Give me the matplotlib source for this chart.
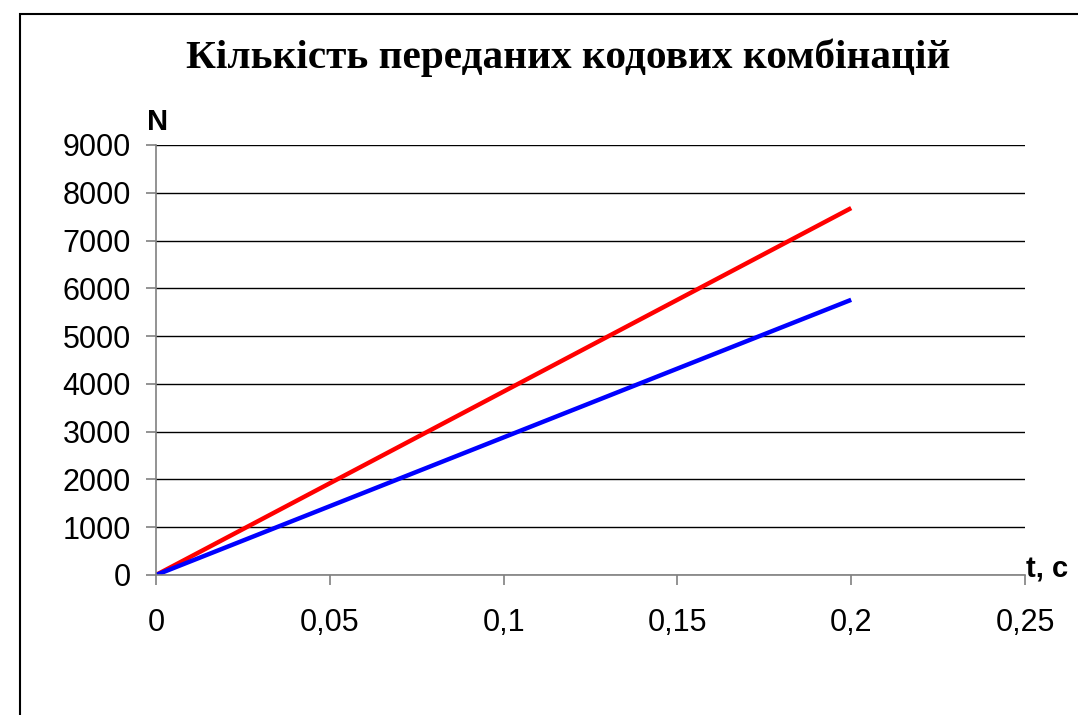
import matplotlib
matplotlib.use("Agg")
import matplotlib.pyplot as plt
from matplotlib.patches import Rectangle
from matplotlib.ticker import FuncFormatter

# data
t = [0.0, 0.01, 0.02, 0.03, 0.04, 0.05, 0.06, 0.07, 0.08, 0.09, 0.10,
     0.11, 0.12, 0.13, 0.14, 0.15, 0.16, 0.17, 0.18, 0.19, 0.20]
n_red = [0, 384, 768, 1152, 1536, 1920, 2304, 2688, 3072, 3456, 3840,
         4224, 4608, 4992, 5376, 5760, 6144, 6528, 6912, 7296, 7680]
n_blue = [0, 288, 576, 864, 1152, 1440, 1728, 2016, 2304, 2592, 2880,
          3168, 3456, 3744, 4032, 4320, 4608, 4896, 5184, 5472, 5760]
x_ticks = [0, 0.05, 0.1, 0.15, 0.2, 0.25]
y_ticks = [0, 1000, 2000, 3000, 4000, 5000, 6000, 7000, 8000, 9000]
title = "Кількість переданих кодових комбінацій"

plt.rcParams['font.family'] = ['Liberation Sans', 'DejaVu Sans']

W, H = 1078, 715
fig = plt.figure(figsize=(W / 100, H / 100), dpi=100)

# outer chart border (clipped on right and bottom like the reference)
fig.patches.append(Rectangle((20 / W, -0.1), 1.2, 1 - 14 / H + 0.1,
                             transform=fig.transFigure, fill=False,
                             edgecolor='black', linewidth=1.5))

ax = fig.add_axes([156 / W, 1 - 575 / H, (1025 - 156) / W, (575 - 145) / H])
ax.plot(t, n_red, color='#ff0000', linewidth=3.2, solid_capstyle='butt')
ax.plot(t, n_blue, color='#0000ff', linewidth=3.2, solid_capstyle='butt')

ax.set_xlim(0, 0.25)
ax.set_ylim(0, 9000)
ax.set_xticks(x_ticks)
ax.set_yticks(y_ticks)
ax.xaxis.set_major_formatter(FuncFormatter(lambda v, p: ('%g' % v).replace('.', ',')))
ax.yaxis.set_major_formatter(FuncFormatter(lambda v, p: '%d' % v))

ax.grid(axis='y', color='black', linewidth=1.0)
ax.set_axisbelow(True)
for s in ['top', 'right']:
    ax.spines[s].set_visible(False)
for s in ['left', 'bottom']:
    ax.spines[s].set_color('#808080')
    ax.spines[s].set_linewidth(1.2)
ax.tick_params(axis='y', direction='out', length=7, width=1.2, color='#808080',
               labelsize=22, pad=11)
ax.tick_params(axis='x', direction='out', length=7, width=1.2, color='#808080',
               labelsize=22, pad=17)

fig.text(568 / W, 1 - 58 / H, title, ha='center', va='center',
         fontsize=29.7, fontweight='bold', family=['Liberation Serif', 'DejaVu Serif'])
fig.text(147 / W, 1 - 122 / H, 'N', ha='left', va='center',
         fontsize=21, fontweight='bold')
fig.text(1026 / W, 1 - 569 / H, 't, c', ha='left', va='center',
         fontsize=21, fontweight='bold')

fig.savefig('out.png', dpi=100)
